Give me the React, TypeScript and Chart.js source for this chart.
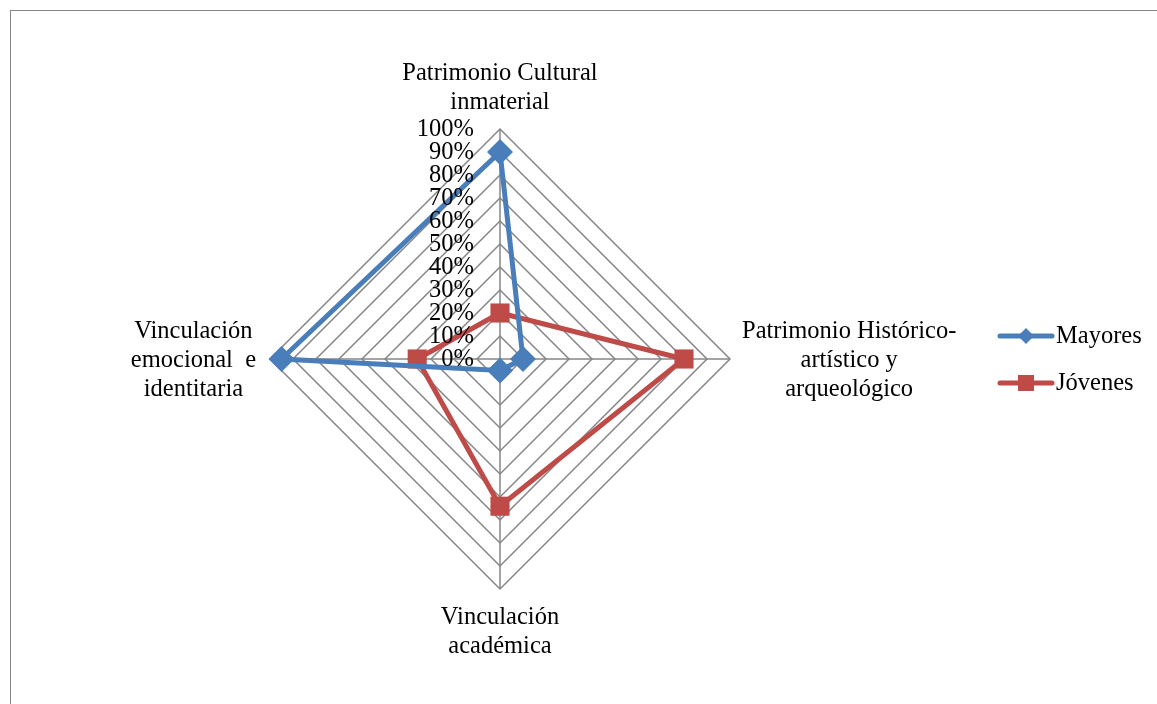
import React, { useEffect, useRef } from "react";
import { Chart, registerables } from "chart.js";

Chart.register(...registerables);

const categories: string[][] = [
  ["Patrimonio Cultural", "inmaterial"],
  ["Patrimonio Histórico-", "artístico y", "arqueológico"],
  ["Vinculación", "académica"],
  ["Vinculación", "emocional  e", "identitaria"],
];
const mayores = [0.9, 0.1, 0.05, 0.95];
const jovenes = [0.2, 0.8, 0.64, 0.36];
const tickValues = [0, 0.1, 0.2, 0.3, 0.4, 0.5, 0.6, 0.7, 0.8, 0.9, 1];
const seriesNames = ["Mayores", "Jóvenes"];

const FONT = '"Liberation Serif", "DejaVu Serif", serif';
const GRID = "#868686";
const BLUE = "#4A7EBB";
const RED = "#BE4B48";

const customDraw = {
  id: "customDraw",
  afterDraw(chart: any) {
    const ctx = chart.ctx;
    const scale = chart.scales.r;
    const cx = scale.xCenter;
    const cy = scale.yCenter;
    const R = scale.drawingArea;
    ctx.save();
    ctx.fillStyle = "#000";
    ctx.font = `24.5px ${FONT}`;
    // tick labels
    ctx.textAlign = "right";
    ctx.textBaseline = "middle";
    tickValues.forEach((v) => {
      const d = scale.getDistanceFromCenterForValue(v);
      ctx.fillText(Math.round(v * 100) + "%", cx - 26, cy - d + 1);
    });
    // point labels
    const lh = 29;
    ctx.textAlign = "center";
    categories.forEach((lines, i) => {
      const n = lines.length;
      let x = cx;
      let y0 = cy;
      if (i === 0) {
        x = cx;
        y0 = cy - R - 26 - (n - 1) * lh;
      } else if (i === 1) {
        const w = Math.max(...lines.map((l) => ctx.measureText(l).width));
        x = cx + R + 12 + w / 2;
        y0 = cy + 2 - ((n - 1) * lh) / 2;
      } else if (i === 2) {
        x = cx;
        y0 = cy + R + 29;
      } else {
        const w = Math.max(...lines.map((l) => ctx.measureText(l).width));
        x = cx - R - 14 - w / 2;
        y0 = cy + 2 - ((n - 1) * lh) / 2;
      }
      lines.forEach((l, k) => ctx.fillText(l, x, y0 + k * lh));
    });
    // legend
    const colors = [BLUE, RED];
    const styles = ["rectRot", "rect"];
    seriesNames.forEach((name, i) => {
      const ly = 336 + i * 47;
      ctx.strokeStyle = colors[i];
      ctx.lineWidth = 5;
      ctx.lineCap = "round";
      ctx.beginPath();
      ctx.moveTo(1000, ly);
      ctx.lineTo(1052, ly);
      ctx.stroke();
      ctx.fillStyle = colors[i];
      ctx.beginPath();
      if (styles[i] === "rectRot") {
        ctx.moveTo(1026, ly - 8);
        ctx.lineTo(1034, ly);
        ctx.lineTo(1026, ly + 8);
        ctx.lineTo(1018, ly);
        ctx.closePath();
      } else {
        ctx.rect(1018, ly - 8, 16, 16);
      }
      ctx.fill();
      ctx.fillStyle = "#000";
      ctx.textAlign = "left";
      ctx.fillText(name, 1056, ly + 1);
    });
    ctx.restore();
  },
};

export default function App() {
  const ref = useRef<HTMLCanvasElement | null>(null);
  useEffect(() => {
    if (!ref.current) return;
    const chart = new Chart(ref.current, {
      type: "radar",
      data: {
        labels: categories,
        datasets: [
          {
            label: seriesNames[0],
            data: mayores,
            borderColor: BLUE,
            backgroundColor: BLUE,
            borderWidth: 5,
            pointStyle: "rectRot",
            pointRadius: 13,
            pointBorderWidth: 0,
            fill: false,
          },
          {
            label: seriesNames[1],
            data: jovenes,
            borderColor: RED,
            backgroundColor: RED,
            borderWidth: 5,
            pointStyle: "rect",
            pointRadius: 13.5,
            pointBorderWidth: 0,
            fill: false,
          },
        ],
      },
      options: {
        responsive: false,
        animation: false,
        layout: { padding: { left: 270, right: 427, top: 129, bottom: 115 } },
        plugins: { legend: { display: false }, tooltip: { enabled: false } },
        scales: {
          r: {
            min: 0,
            max: 1,
            ticks: { stepSize: 0.1, display: false },
            grid: { color: GRID, lineWidth: 1.5, circular: false },
            angleLines: { color: GRID, lineWidth: 1.5 },
            pointLabels: { display: false },
          },
        },
      } as any,
      plugins: [customDraw],
    });
    return () => chart.destroy();
  }, []);
  return (
    <div style={{ position: "absolute", left: 0, top: 0, width: 1157, height: 704, overflow: "hidden", background: "#fff" }}>
      <div
        style={{
          position: "absolute",
          left: 10,
          top: 10,
          width: 1300,
          height: 900,
          borderLeft: `1px solid ${GRID}`,
          borderTop: `1px solid ${GRID}`,
        }}
      />
      <canvas ref={ref} width={1157} height={704} style={{ position: "absolute", left: 0, top: 0 }} />
    </div>
  );
}
